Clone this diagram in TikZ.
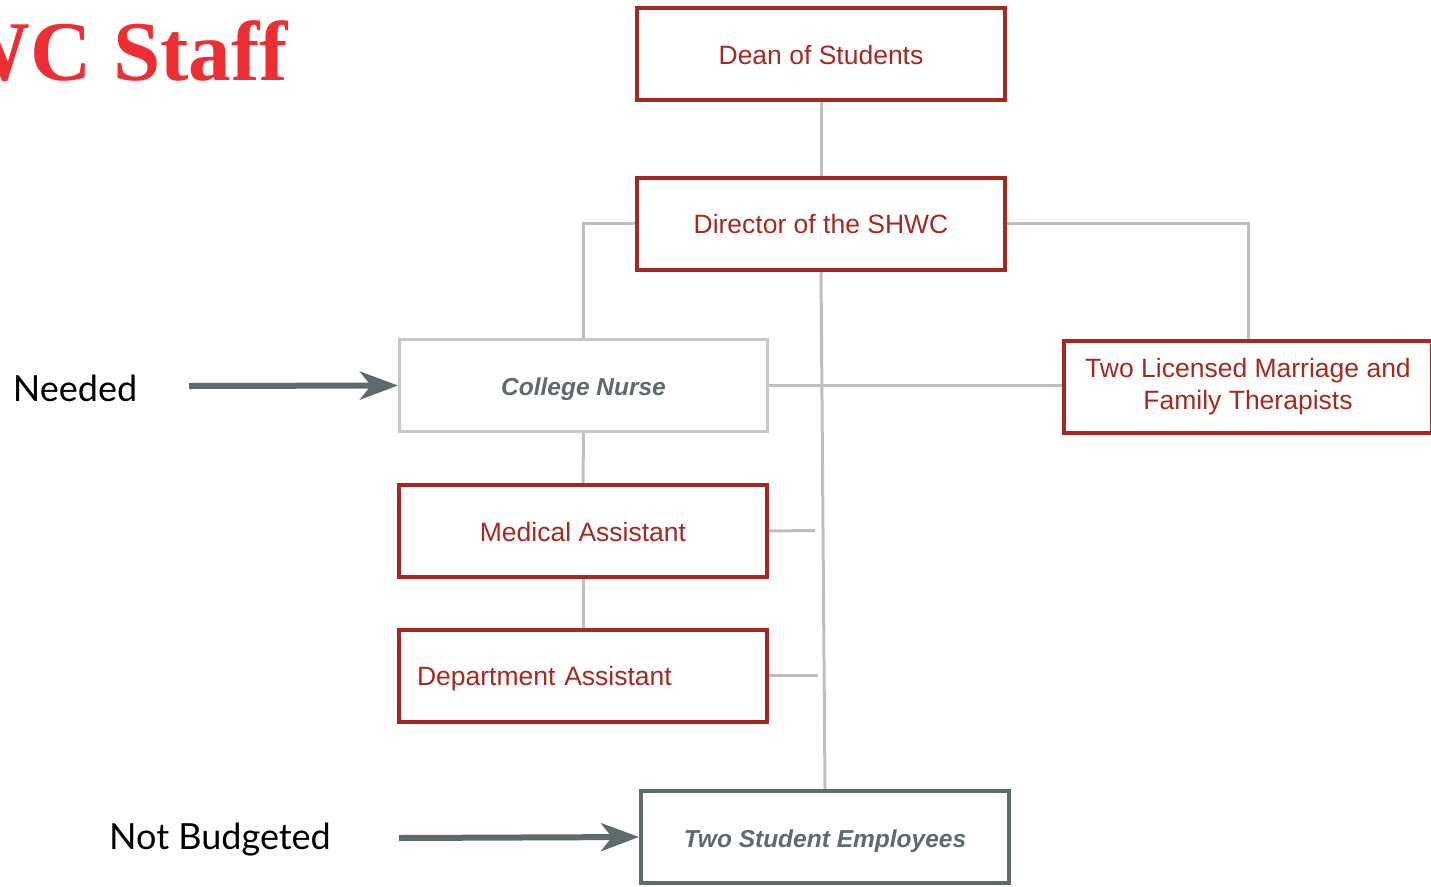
\documentclass[tikz,border=0pt]{standalone}
\usepackage{fontspec}
\setmainfont{Liberation Sans}
\newfontfamily\titlefont{Liberation Serif}
\newfontfamily\labelfont{Lato}
\usetikzlibrary{arrows.meta,backgrounds}
\definecolor{boxred}{HTML}{A8281F}
\definecolor{titlered}{HTML}{EE2E33}
\definecolor{linegray}{HTML}{BDBFBF}
\definecolor{palegray}{HTML}{C3C9CB}
\definecolor{slate}{HTML}{5E6A6B}
\tikzset{
  boxbase/.style={fill=white, minimum width=368pt, minimum height=92pt, inner sep=0pt,
    text height=22pt, text depth=2pt, font=\fontsize{26.5}{32}\selectfont},
  redbox/.style={boxbase, draw=boxred, line width=4pt, text=boxred, align=center},
  twoline/.style={fill=white, minimum width=368pt, minimum height=92pt, inner sep=0pt,
    font=\fontsize{26.5}{32}\selectfont, draw=boxred, line width=4pt, text=boxred, align=center},
  nursebox/.style={boxbase, draw=palegray, line width=3pt, text=slate, text height=21pt, text depth=1pt,
    font=\fontsize{24.5}{30}\selectfont\bfseries\itshape},
  studentbox/.style={boxbase, draw=slate, line width=4pt, text=slate, text height=21pt, text depth=1pt,
    font=\fontsize{24.5}{30}\selectfont\bfseries\itshape},
  conn/.style={draw=linegray, line width=3pt},
  pointer/.style={draw=slate, line width=6pt, -{Stealth[length=38pt,width=28pt,inset=11pt]}},
  sidelabel/.style={font=\labelfont\fontsize{36}{40}\selectfont, text=black, inner sep=0pt}
}
\begin{document}
\begin{tikzpicture}[x=1pt,y=-1pt]
\useasboundingbox (0,0) rectangle (1431,886);
% boxes
\node[redbox] (dean) at (821,54) {Dean of Students};
\node[redbox] (director) at (821,223.5) {Director of the SHWC};
\node[nursebox] (nurse) at (583.5,385.5) {College Nurse};
\node[twoline] (mft) at (1248,386.5) {Two Licensed Marriage and\\Family Therapists};
\node[redbox] (medical) at (583,531) {Medical Assistant};
\node[redbox, text width=332pt, align=left, inner xsep=18pt] (dept) at (583,675.5) {Department Assistant};
\node[studentbox] (student) at (825,837) {Two Student Employees};
\coordinate (mstub) at (815,530.5);
\coordinate (dstub) at (818,675.5);
% connectors behind the boxes
\begin{scope}[on background layer]
\path[conn] (dean.south) -- (director.north);
\path[conn] (director.west) -| (nurse.north);
\path[conn] (director.east) -| (mft.north);
\path[conn] (director.south) -- (student.north);
\path[conn] (nurse.east) -- (nurse.east -| mft.west);
\path[conn] (nurse.south) -- (medical.north);
\path[conn] (medical.south) -- (dept.north);
\path[conn] (medical.east) -- (mstub);
\path[conn] (dept.east) -- (dstub);
\end{scope}
% side labels
\node[sidelabel] (needed) at (75,388) {Needed};
\node[sidelabel] (notbudgeted) at (220,840) {Not Budgeted};
\coordinate (na) at (189,386);
\coordinate (nb) at (399,838);
\draw[pointer] (na) -- (nurse.west);
\draw[pointer] (nb) -- (student.west);
% title
\node[anchor=base east, inner sep=0pt, text=titlered, font=\titlefont\bfseries\fontsize{85}{90}\selectfont] (title) at (288,80) {WC Staff};
\end{tikzpicture}
\end{document}
